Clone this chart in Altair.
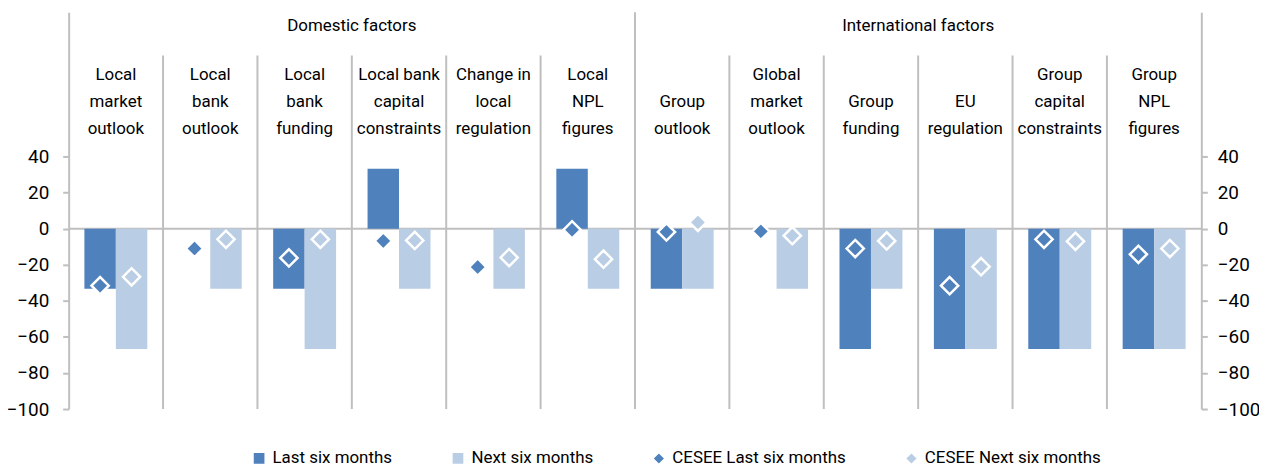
import altair as alt
import pandas as pd

categories = [
    "Local market outlook", "Local bank outlook", "Local bank funding",
    "Local bank capital constraints", "Change in local regulation", "Local NPL figures",
    "Group outlook", "Global market outlook", "Group funding", "EU regulation",
    "Group capital constraints", "Group NPL figures",
]
label_lines = [
    ["Local", "market", "outlook"], ["Local", "bank", "outlook"], ["Local", "bank", "funding"],
    ["Local bank", "capital", "constraints"], ["Change in", "local", "regulation"],
    ["Local", "NPL", "figures"], ["", "Group", "outlook"], ["Global", "market", "outlook"],
    ["", "Group", "funding"], ["", "EU", "regulation"], ["Group", "capital", "constraints"],
    ["Group", "NPL", "figures"],
]
last_six = [-33.3, 0, -33.3, 33.3, 0, 33.3, -33.3, 0, -66.7, -66.7, -66.7, -66.7]
next_six = [-66.7, -33.3, -66.7, -33.3, -33.3, -33.3, -33.3, -33.3, -33.3, -66.7, -66.7, -66.7]
cesee_last = [-31.6, -11.0, -16.2, -6.8, -21.3, -0.6, -1.8, -1.5, -11.0, -31.6, -5.9, -14.2]
cesee_next = [-26.7, -5.9, -5.9, -6.5, -16.0, -16.9, 3.5, -3.9, -6.8, -21.1, -7.0, -11.0]

groups = ["Domestic factors", "International factors"]
group_centers = ["Local bank capital constraints", "EU regulation"]  # boundary at left edge of these

series_names = ["Last six months", "Next six months", "CESEE Last six months", "CESEE Next six months"]
series_colors = ["#4F81BD", "#B9CDE5", "#4F81BD", "#B9CDE5"]
series_shapes = ["square", "square", "diamond", "diamond"]

FONT = "Roboto"
GRID = "#BFBFBF"

bars = pd.DataFrame(
    [{"cat": c, "series": "Last six months", "slot": "L", "v": v} for c, v in zip(categories, last_six)]
    + [{"cat": c, "series": "Next six months", "slot": "N", "v": v} for c, v in zip(categories, next_six)]
)
pts = pd.DataFrame(
    [{"cat": c, "series": "CESEE Last six months", "slot": "L", "v": v} for c, v in zip(categories, cesee_last)]
    + [{"cat": c, "series": "CESEE Next six months", "slot": "N", "v": v} for c, v in zip(categories, cesee_next)]
)
labels = pd.DataFrame({"cat": categories, "label": label_lines})
inner_seps = pd.DataFrame({"cat": [c for i, c in enumerate(categories) if i not in (0, 6)]})
group_sep = pd.DataFrame({"cat": [categories[6]]})
heads = pd.DataFrame({"cat": group_centers, "name": groups})

yscale = alt.Scale(domain=[-100, 120], nice=False, zero=False)
xscale = alt.Scale(domain=categories, paddingInner=0, paddingOuter=0)
oscale = alt.Scale(domain=["L", "N"], paddingInner=0, paddingOuter=0.5)
cscale = alt.Scale(domain=series_names, range=series_colors)
sscale = alt.Scale(domain=series_names, range=series_shapes)
tick_vals = [-100, -80, -60, -40, -20, 0, 20, 40]

def yaxis(orient, pad):
    return alt.Axis(orient=orient, values=tick_vals, title=None, grid=False,
                    domainColor=GRID, domainWidth=2, tickColor=GRID, tickWidth=2, tickSize=6,
                    labelFont=FONT, labelFontSize=19, labelColor="#000000", labelPadding=pad)

X = alt.X("cat:N", scale=xscale, axis=None, sort=categories)

zero = alt.Chart(pd.DataFrame({"z": [0]})).mark_rule(color=GRID, strokeWidth=2).encode(
    y=alt.Y("z:Q", scale=yscale, axis=yaxis("right", 10))
)

seps = alt.Chart(inner_seps).mark_rule(color=GRID, strokeWidth=2).encode(
    x=alt.X("cat:N", scale=xscale, axis=None, sort=categories, bandPosition=0),
    y=alt.Y(datum=96, scale=yscale, axis=None),
    y2=alt.Y2(datum=-100),
)
gsep = alt.Chart(group_sep).mark_rule(color=GRID, strokeWidth=2).encode(
    x=alt.X("cat:N", scale=xscale, axis=None, sort=categories, bandPosition=0),
    y=alt.Y(datum=120, scale=yscale, axis=None),
    y2=alt.Y2(datum=-100),
)

bar_layer = alt.Chart(bars).mark_bar().encode(
    x=X,
    xOffset=alt.XOffset("slot:N", scale=oscale),
    y=alt.Y("v:Q", scale=yscale, axis=yaxis("left", 14)),
    y2=alt.datum(0),
    color=alt.Color("series:N", scale=cscale, title=None),
)

pt_layer = alt.Chart(pts).mark_point(filled=True, stroke="white", strokeWidth=2.5, size=300, opacity=1).encode(
    x=X,
    xOffset=alt.XOffset("slot:N", scale=oscale),
    y=alt.Y("v:Q", scale=yscale, axis=None),
    color=alt.Color("series:N", scale=cscale, title=None),
    shape=alt.Shape("series:N", scale=sscale, title=None),
)

cat_text = alt.Chart(labels).mark_text(
    font=FONT, fontSize=17, color="#000000", baseline="bottom", align="center", lineHeight=27
).encode(
    x=X,
    y=alt.Y(datum=80.3, scale=yscale, axis=None),
    text="label",
)

head_text = alt.Chart(heads).mark_text(
    font=FONT, fontSize=17, color="#000000", baseline="middle", align="center"
).encode(
    x=alt.X("cat:N", scale=xscale, axis=None, sort=categories, bandPosition=0),
    y=alt.Y(datum=112.3, scale=yscale, axis=None),
    text="name:N",
)

chart = alt.layer(
    zero, seps, gsep, bar_layer, pt_layer, cat_text, head_text
).resolve_axis(y="independent").properties(
    width=1139, height=399,
    autosize=alt.AutoSizeParams(type="none"),
    padding={"left": 61, "top": 3, "right": 58, "bottom": 57},
).configure_view(stroke=None).configure_legend(
    orient="none", legendX=183, legendY=440, direction="horizontal", columns=4,
    gridAlign="each", columnPadding=56, labelFont=FONT, labelFontSize=17,
    labelColor="#000000", symbolSize=150, labelLimit=0, labelOffset=5,
)

chart.save("out.html", embed_options={"renderer": "svg", "actions": False})
